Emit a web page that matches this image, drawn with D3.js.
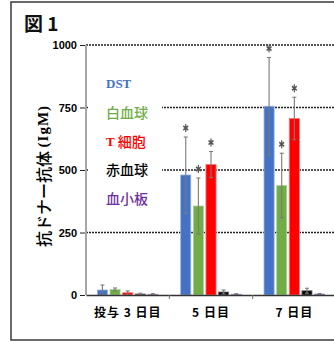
<!DOCTYPE html>
<html>
<head>
<meta charset="utf-8">
<script src="https://cdn.jsdelivr.net/npm/d3@7"></script>
<style>
  html, body { margin: 0; padding: 0; background: #fff; }
  svg { display: block; }
</style>
</head>
<body>
<svg id="chart" width="334" height="342"></svg>
<script>
// Categories (days after dosing) and series (donor antibody targets)
const categories = ["投与 3 日目", "5 日目", "7 日目"];
const series = ["DST", "白血球", "T 細胞", "赤血球", "血小板"];
const seriesColors = ["#4472C4", "#70AD47", "#FF0000", "#000000", "#7030A0"];

// Mean anti-donor IgM per series, one value per category
const dstValues   = [20, 480, 755];
const wbcValues   = [22, 356, 438];
const tcellValues = [9, 522, 706];
const rbcValues   = [4, 12, 17];
const pltValues   = [3, 3, 4];

// Standard deviation per series, one value per category
const dstErr   = [20, 152, 195];
const wbcErr   = [6, 112, 129];
const tcellErr = [7, 52, 85];
const rbcErr   = [3, 8, 10];
const pltErr   = [2, 2, 2];

// Significance markers (*) per series
const dstSig   = [false, true, true];
const wbcSig   = [false, true, true];
const tcellSig = [false, true, true];
const rbcSig   = [false, false, false];
const pltSig   = [false, false, false];

const yTicks = [0, 250, 500, 750, 1000];
const titleText = "図 1";
const yTitleMain = "抗ドナー抗体 ";
const yTitleUnit = "(IgM)";

const valuesBySeries = [dstValues, wbcValues, tcellValues, rbcValues, pltValues];
const errBySeries = [dstErr, wbcErr, tcellErr, rbcErr, pltErr];
const sigBySeries = [dstSig, wbcSig, tcellSig, rbcSig, pltSig];

const rows = [];
categories.forEach((c, ci) => {
  series.forEach((s, si) => {
    rows.push({
      cat: c, ser: s, color: seriesColors[si],
      value: valuesBySeries[si][ci],
      err: errBySeries[si][ci],
      sig: sigBySeries[si][ci]
    });
  });
});

const serif = "'Liberation Serif', 'DejaVu Serif', serif";
const cjk = "'Noto Sans CJK JP', sans-serif";

const svg = d3.select("#chart");
const plot = { left: 86, right: 336, top: 45, bottom: 295 };

const x = d3.scaleBand().domain(categories).range([plot.left, plot.right]).padding(0);
const xs = d3.scaleBand().domain(series).range([0, x.bandwidth()])
  .paddingInner(0.2).paddingOuter(0.9);
const y = d3.scaleLinear().domain([0, 1000]).range([plot.bottom, plot.top]);

// Outer frame
svg.append("rect")
  .attr("x", 11).attr("y", 2).attr("width", 340).attr("height", 338)
  .attr("fill", "#fff").attr("stroke", "#3a3a3a").attr("stroke-width", 1.5);

// Title
svg.append("text")
  .attr("x", 24).attr("y", 31)
  .attr("font-family", cjk)
  .attr("font-size", 19).attr("font-weight", 700).attr("fill", "#111")
  .text(titleText);

// Dotted gridlines
svg.append("g")
  .selectAll("line")
  .data(yTicks.filter(t => t > 0))
  .join("line")
  .attr("x1", plot.left).attr("x2", plot.right)
  .attr("y1", d => y(d)).attr("y2", d => y(d))
  .attr("stroke", "#222").attr("stroke-width", 1.4)
  .attr("stroke-dasharray", "2,1");

// Legend (text only, on a white panel); Latin letters set in a serif face
const legendX = 106;
svg.append("rect")
  .attr("x", 88).attr("y", 68).attr("width", 74).attr("height", 144)
  .attr("fill", "#fff");
const legend = svg.append("g");
series.forEach((s, i) => {
  const t = legend.append("text")
    .attr("x", legendX).attr("y", 83 + i * 28.75)
    .attr("dominant-baseline", "central")
    .attr("font-size", 14)
    .attr("fill", seriesColors[i]);
  // split into Latin / CJK runs
  (s.match(/[A-Za-z]+|[^A-Za-z]+/g) || []).forEach(part => {
    const latin = /^[A-Za-z]+$/.test(part);
    t.append("tspan")
      .attr("font-family", latin ? serif : cjk)
      .attr("font-weight", latin ? 700 : 500)
      .attr("font-size", latin ? 13 : 14)
      .text(part);
  });
});

// Bars
const bars = svg.append("g");
bars.selectAll("rect")
  .data(rows)
  .join("rect")
  .attr("x", d => x(d.cat) + xs(d.ser))
  .attr("width", xs.bandwidth())
  .attr("y", d => y(d.value))
  .attr("height", d => y(0) - y(d.value))
  .attr("fill", d => d.color)
  .attr("stroke", d => d3.interpolateRgb(d.color, "#fff")(0.45))
  .attr("stroke-width", 0.8);

// Error bars
const eb = svg.append("g").attr("stroke", "#7a7a7a").attr("stroke-width", 1.1);
rows.forEach(d => {
  const cx = x(d.cat) + xs(d.ser) + xs.bandwidth() / 2;
  const hi = y(d.value + d.err), lo = y(Math.max(0, d.value - d.err));
  eb.append("line").attr("x1", cx).attr("x2", cx).attr("y1", hi).attr("y2", lo);
  eb.append("line").attr("x1", cx - 2).attr("x2", cx + 2).attr("y1", hi).attr("y2", hi);
  eb.append("line").attr("x1", cx - 2).attr("x2", cx + 2).attr("y1", lo).attr("y2", lo);
});

// Significance asterisks
const star = d3.symbol().type(d3.symbolAsterisk).size(22);
svg.append("g")
  .selectAll("path")
  .data(rows.filter(d => d.sig))
  .join("path")
  .attr("d", star)
  .attr("transform", d => {
    const cx = x(d.cat) + xs(d.ser) + xs.bandwidth() / 2;
    return `translate(${cx},${y(d.value + d.err) - 9}) scale(1,1.45)`;
  })
  .attr("fill", "none").attr("stroke", "#555").attr("stroke-width", 1.2);

// Y axis
svg.append("line")
  .attr("x1", plot.left).attr("x2", plot.left)
  .attr("y1", plot.top).attr("y2", plot.bottom)
  .attr("stroke", "#a6a6a6").attr("stroke-width", 2);
const yAxis = svg.append("g")
  .attr("transform", `translate(${plot.left - 1},0)`)
  .call(d3.axisLeft(y).tickValues(yTicks).tickSize(5).tickPadding(3).tickFormat(d3.format("d")));
yAxis.select(".domain").remove();
yAxis.selectAll(".tick line").attr("stroke", "#222");
yAxis.selectAll(".tick text")
  .attr("font-family", "'Liberation Sans', Arial, sans-serif")
  .attr("font-size", 11).attr("font-weight", 700).attr("fill", "#000");

// X axis
const xAxis = svg.append("g")
  .attr("transform", `translate(0,${plot.bottom})`)
  .call(d3.axisBottom(x).tickSize(0).tickPadding(13));
xAxis.select(".domain").attr("stroke", "#333").attr("stroke-width", 1.5);
xAxis.selectAll(".tick text")
  .attr("font-family", cjk)
  .attr("font-size", 12).attr("font-weight", 700).attr("fill", "#000")
  .attr("letter-spacing", 1);
// Category boundary ticks
svg.append("g")
  .selectAll("line")
  .data(categories.slice(1))
  .join("line")
  .attr("x1", d => x(d)).attr("x2", d => x(d))
  .attr("y1", plot.bottom).attr("y2", plot.bottom + 4)
  .attr("stroke", "#777").attr("stroke-width", 1);

// Y axis title
const yt = svg.append("text")
  .attr("transform", "translate(43,176) rotate(-90)")
  .attr("text-anchor", "middle").attr("dominant-baseline", "central")
  .attr("font-size", 16).attr("fill", "#000");
yt.append("tspan").attr("font-family", cjk).attr("font-weight", 500).text(yTitleMain);
yt.append("tspan").attr("font-family", serif).attr("font-weight", 700).attr("font-size", 15)
  .attr("letter-spacing", 1).text(yTitleUnit);
</script>
</body>
</html>
